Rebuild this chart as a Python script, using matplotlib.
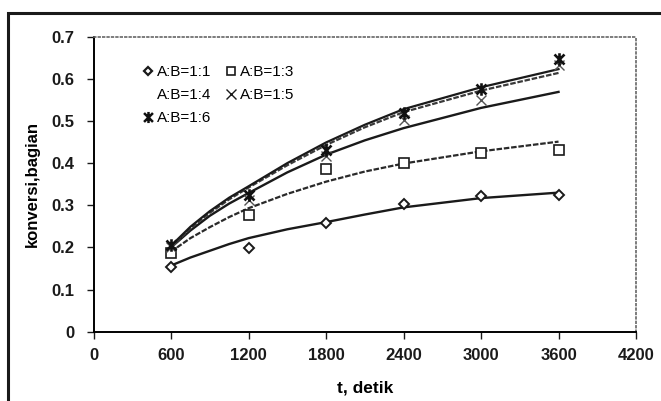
import numpy as np
import matplotlib
matplotlib.use('Agg')
import matplotlib.pyplot as plt
from matplotlib.lines import Line2D
from matplotlib.path import Path
from matplotlib.patches import Rectangle

plt.rcParams['font.family'] = ['Liberation Sans', 'DejaVu Sans']

# measured points
t_data = [600, 1200, 1800, 2400, 3000, 3600]
x_11 = [0.154, 0.198, 0.259, 0.304, 0.321, 0.324]
x_13 = [0.187, 0.276, 0.385, 0.400, 0.424, 0.432]
x_15 = [0.200, 0.313, 0.416, 0.503, 0.550, 0.633]
x_16 = [0.206, 0.324, 0.432, 0.519, 0.575, 0.648]

# fitted curves
t_fit = [600, 750, 900, 1050, 1200, 1500, 1800, 2100, 2400, 3000, 3600]
fit_11 = [0.157, 0.176, 0.192, 0.208, 0.222, 0.243, 0.260, 0.278, 0.295, 0.317, 0.330]
fit_13 = [0.190, 0.222, 0.248, 0.272, 0.293, 0.327, 0.356, 0.380, 0.399, 0.428, 0.451]
fit_14 = [0.200, 0.240, 0.275, 0.304, 0.329, 0.378, 0.420, 0.454, 0.483, 0.531, 0.569]
fit_15 = [0.200, 0.245, 0.282, 0.314, 0.342, 0.395, 0.443, 0.485, 0.521, 0.572, 0.614]
fit_16 = [0.204, 0.249, 0.286, 0.318, 0.345, 0.400, 0.449, 0.491, 0.528, 0.580, 0.623]

labels = ['A:B=1:1', 'A:B=1:3', 'A:B=1:4', 'A:B=1:5', 'A:B=1:6']
x_ticks = [0, 600, 1200, 1800, 2400, 3000, 3600, 4200]
y_ticks = [0, 0.1, 0.2, 0.3, 0.4, 0.5, 0.6, 0.7]
y_ticklabels = ['0', '0.1', '0.2', '0.3', '0.4', '0.5', '0.6', '0.7']

# excel-style star: X with a vertical bar
star = Path([(0, -1), (0, 1), (-0.8, -0.8), (0.8, 0.8), (-0.8, 0.8), (0.8, -0.8)],
            [Path.MOVETO, Path.LINETO] * 3)

fig = plt.figure(figsize=(6.61, 4.01), dpi=100)
ax = fig.add_axes([0.1415, 0.1728, 0.8207, 0.7357])

ax.plot(t_fit, fit_11, color='#1a1a1a', lw=1.7)
ax.plot(t_fit, fit_13, color='#2a2a2a', lw=1.6, ls=(0, (2.5, 0.8)))
ax.plot(t_fit, fit_14, color='#1a1a1a', lw=1.7)
ax.plot(t_fit, fit_15, color='#3a3a3a', lw=1.6, ls=(0, (2.5, 0.8)))
ax.plot(t_fit, fit_16, color='#1a1a1a', lw=1.6)

ax.plot(t_data, x_11, ls='none', marker='D', ms=5, mfc='white', mec='#1a1a1a', mew=1.4)
ax.plot(t_data, x_13, ls='none', marker='s', ms=7, mfc='white', mec='#1a1a1a', mew=1.2)
ax.plot(t_data, x_15, ls='none', marker='x', ms=7, mec='#555555', mew=1.0)
ax.plot(t_data, x_16, ls='none', marker=star, ms=9, mec='#111111', mew=1.9)

handles = [
    Line2D([], [], ls='none', marker='D', ms=4, mfc='white', mec='#1a1a1a', mew=1.6),
    Line2D([], [], ls='none', marker='none'),
    Line2D([], [], ls='none', marker=star, ms=8, mec='#111111', mew=1.8),
    Line2D([], [], ls='none', marker='s', ms=6, mfc='white', mec='#1a1a1a', mew=1.2),
    Line2D([], [], ls='none', marker='x', ms=7, mec='#1a1a1a', mew=1.0),
]
leg_labels = [labels[0], labels[2], labels[4], labels[1], labels[3]]
ax.legend(handles, leg_labels, ncol=2, loc='upper left', bbox_to_anchor=(0.08, 0.925),
          frameon=False, fontsize=11, handlelength=0.6, handletextpad=0.3,
          columnspacing=1.0, labelspacing=0.6, borderaxespad=0)

ax.set_xlim(0, 4200)
ax.set_ylim(0, 0.7)
ax.set_xticks(x_ticks)
ax.set_xticklabels([str(v) for v in x_ticks], fontsize=12, fontweight='bold')
ax.set_yticks(y_ticks)
ax.set_yticklabels(y_ticklabels, fontsize=12, fontweight='bold')
ax.tick_params(direction='out', length=5, width=1, colors='#1a1a1a')
ax.tick_params(axis='x', pad=7)
ax.tick_params(axis='y', pad=9)

ax.spines['left'].set_linewidth(1.4)
ax.spines['bottom'].set_linewidth(1.4)
for s in ['top', 'right']:
    ax.spines[s].set_linestyle(':')
    ax.spines[s].set_color('#666666')
    ax.spines[s].set_linewidth(1.2)

ax.set_xlabel('t, detik', fontsize=12.5, fontweight='bold', labelpad=12)
ax.set_ylabel('konversi,bagian', fontsize=12, fontweight='bold', labelpad=8)

# outer chart border (top and left edges visible on the scan)
fig.add_artist(Rectangle((8 / 661, -0.5), 2, 1.5 - 13 / 401, transform=fig.transFigure,
                         fill=False, lw=2.2, ec='#1a1a1a'))

fig.savefig('out.png', dpi=100)
